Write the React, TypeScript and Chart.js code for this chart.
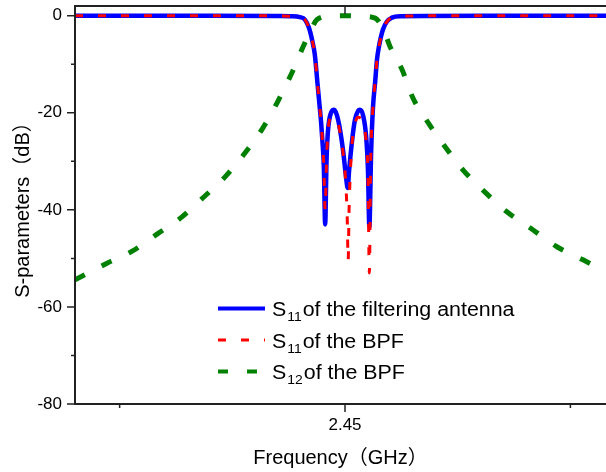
import React, { useEffect, useRef } from 'react';
import { Chart, registerables } from 'chart.js';
Chart.register(...registerables);

const FONT = "'Liberation Sans', Arial, 'Noto Sans CJK SC', sans-serif";

// S11 of the filtering antenna
const antennaFreq = [
  2.3901, 2.42, 2.435, 2.4378, 2.44, 2.4411, 2.442, 2.4427, 2.4433, 2.4439, 2.4443, 2.4447,
  2.445, 2.4453, 2.4456, 2.4459, 2.4462, 2.4469, 2.4476, 2.4482, 2.4489, 2.4496, 2.4502,
  2.4506, 2.4509, 2.4516, 2.4522, 2.4529, 2.4533, 2.454, 2.4547, 2.4551, 2.4554, 2.4558,
  2.4562, 2.4567, 2.4571, 2.4575, 2.4584, 2.4593, 2.4604, 2.4622, 2.48, 2.5079,
];
const antennaS11 = [
  0, 0, -0.05, -0.1, -0.3, -0.8, -2.5, -5, -8, -14, -18, -22,
  -26, -31, -43, -30, -24, -20, -19.4, -20.5, -23.5, -28, -33,
  -35.5, -32, -25.5, -21.5, -19.6, -19.4, -20.5, -25, -32, -43.5, -28,
  -19, -13.5, -9, -6.5, -2.9, -1.2, -0.4, -0.1, 0, 0,
];

// S11 of the BPF
const bpfFreq = [
  2.3901, 2.42, 2.435, 2.4378, 2.44, 2.4411, 2.442, 2.4427, 2.4433, 2.4439, 2.4443, 2.4447,
  2.445, 2.4453, 2.4456, 2.4459, 2.4462, 2.4469, 2.4476, 2.4482, 2.4489, 2.4496, 2.4502,
  2.4505, 2.4507, 2.4509, 2.4512, 2.4516, 2.4522, 2.4529, 2.4533, 2.454, 2.4547, 2.4551,
  2.4554, 2.4557, 2.4562, 2.4567, 2.4571, 2.4575, 2.4584, 2.4593, 2.4604, 2.4622, 2.48, 2.5079,
];
const bpfS11 = [
  0, 0, -0.05, -0.1, -0.3, -0.8, -2.5, -5, -8, -14, -18, -22,
  -26, -31, -40, -30, -24, -21, -20.8, -21.5, -24, -28.5, -35,
  -42, -50.5, -40, -32, -26, -22.3, -20.9, -21, -22, -26, -33,
  -53, -30, -19, -13.5, -9, -6.5, -2.9, -1.2, -0.4, -0.1, 0, 0,
];

// S12 of the BPF
const s12Freq = [
  2.3901, 2.3972, 2.4028, 2.4083, 2.4139, 2.4185, 2.4234, 2.4278, 2.4318, 2.4349, 2.4382,
  2.4407, 2.4425, 2.4438, 2.4467, 2.4504, 2.4538, 2.4567, 2.4585, 2.46, 2.4626, 2.4651,
  2.4684, 2.4722, 2.4762, 2.481, 2.4859, 2.4915, 2.497, 2.5028, 2.5079,
];
const s12 = [
  -54.4, -51, -48.5, -45, -41.4, -37.5, -33.2, -28.3, -23.1, -18, -11.8,
  -6.4, -2.8, -0.8, -0.1, 0, -0.1, -0.5, -2.8, -6.4, -11, -17,
  -22, -27, -31.8, -36.3, -40.4, -44, -47.6, -50.3, -52.8,
];

const xMin = 2.3901;
const xMax = 2.5079;
const yMin = -80;
const yMax = 2;
const yMajorTicks = [-80, -60, -40, -20, 0];
const yMinorTicks = [-70, -50, -30, -10];
const xMajorTicks = [2.45];
const xTickLabels = ['2.45'];
const xMinorTicks = [2.4, 2.5];

const xTitle = 'Frequency（GHz）';
const yTitle = 'S-parameters（dB）';

const legendNames = ['of the filtering antenna', 'of the BPF', 'of the BPF'];
const legendSubs = ['11', '11', '12'];
const legendColors = ['#0000ff', '#ff0000', '#008000'];

const toPoints = (xs: number[], ys: number[]) => xs.map((x, i) => ({ x, y: ys[i] }));

const STRETCH = 1.07;

function stretchedText(ctx: any, text: string, x: number, y: number) {
  ctx.save();
  ctx.translate(x, y);
  ctx.scale(STRETCH, 1);
  ctx.fillText(text, 0, 0);
  ctx.restore();
  return ctx.measureText(text).width * STRETCH;
}

const axesAndLegend = {
  id: 'axesAndLegend',
  afterDraw(chart: any) {
    const { ctx, chartArea } = chart;
    const { left, right, top, bottom } = chartArea;
    const xs = chart.scales.x;
    const ys = chart.scales.y;
    ctx.save();
    ctx.strokeStyle = '#222';
    ctx.lineWidth = 2;
    ctx.setLineDash([]);
    ctx.beginPath();
    ctx.moveTo(left, top);
    ctx.lineTo(left, bottom + 1);
    ctx.moveTo(left - 1, bottom);
    ctx.lineTo(right, bottom);
    ctx.moveTo(left - 1, top);
    ctx.lineTo(right, top);
    ctx.stroke();
    ctx.lineWidth = 1.5;
    ctx.beginPath();
    yMajorTicks.forEach((v) => {
      const p = ys.getPixelForValue(v);
      ctx.moveTo(left - 8, p);
      ctx.lineTo(left, p);
    });
    yMinorTicks.forEach((v) => {
      const p = ys.getPixelForValue(v);
      ctx.moveTo(left - 4, p);
      ctx.lineTo(left, p);
    });
    xMajorTicks.forEach((v) => {
      const p = xs.getPixelForValue(v);
      ctx.moveTo(p, bottom);
      ctx.lineTo(p, bottom + 8);
      ctx.moveTo(p, top);
      ctx.lineTo(p, top + 8);
    });
    xMinorTicks.forEach((v) => {
      const p = xs.getPixelForValue(v);
      ctx.moveTo(p, bottom);
      ctx.lineTo(p, bottom + 4);
    });
    ctx.stroke();

    // legend
    const lx = left + 143;
    const ly0 = top + 302.5;
    const dashes = [[], [8, 15], [10, 19]];
    const widths = [4, 3, 4];
    legendNames.forEach((name, i) => {
      const y = ly0 + i * 31.5;
      ctx.strokeStyle = legendColors[i];
      ctx.lineWidth = widths[i];
      ctx.setLineDash(dashes[i]);
      ctx.lineCap = 'butt';
      ctx.beginPath();
      ctx.moveTo(lx, y);
      ctx.lineTo(lx + 47, y);
      ctx.stroke();
      ctx.setLineDash([]);
      ctx.fillStyle = '#000';
      ctx.textBaseline = 'alphabetic';
      ctx.textAlign = 'left';
      let tx = lx + 54;
      const base = y + 7.5;
      ctx.font = `20px ${FONT}`;
      tx += stretchedText(ctx, 'S', tx, base) + 1;
      ctx.font = `13px ${FONT}`;
      tx += stretchedText(ctx, legendSubs[i], tx, base + 5) + 1;
      ctx.font = `20px ${FONT}`;
      stretchedText(ctx, name, tx, base);
    });
    ctx.restore();
  },
};

export default function App() {
  const ref = useRef<HTMLCanvasElement | null>(null);
  useEffect(() => {
    if (!ref.current) return;
    const chart = new Chart(ref.current, {
      type: 'line',
      data: {
        datasets: [
          {
            label: 'S11 of the BPF',
            data: toPoints(bpfFreq, bpfS11),
            borderColor: '#ff0000',
            borderWidth: 3,
            borderDash: [8, 15],
            pointRadius: 0,
            cubicInterpolationMode: 'monotone',
            order: 0,
          },
          {
            label: 'S11 of the filtering antenna',
            data: toPoints(antennaFreq, antennaS11),
            borderColor: '#0000ff',
            borderWidth: 4.5,
            pointRadius: 0,
            cubicInterpolationMode: 'monotone',
            order: 1,
          },
          {
            label: 'S12 of the BPF',
            data: toPoints(s12Freq, s12),
            borderColor: '#008000',
            borderWidth: 5,
            borderDash: [11, 19],
            pointRadius: 0,
            cubicInterpolationMode: 'monotone',
            order: 2,
          },
        ],
      },
      options: {
        animation: false,
        responsive: false,
        devicePixelRatio: 1,
        layout: { padding: { top: 6, left: 0, right: 0, bottom: 0 } },
        plugins: { legend: { display: false }, tooltip: { enabled: false } },
        scales: {
          x: {
            type: 'linear',
            position: 'bottom',
            min: xMin,
            max: xMax,
            grid: { display: false, drawTicks: false, tickLength: 0 },
            border: { display: false },
            afterBuildTicks: (scale: any) => {
              scale.ticks = xMajorTicks.map((v) => ({ value: v }));
            },
            afterFit: (scale: any) => {
              scale.height = 68;
              scale.paddingLeft = 0;
              scale.paddingRight = 0;
            },
            ticks: {
              autoSkip: false,
              maxRotation: 0,
              padding: 11,
              color: '#000',
              font: { family: FONT, size: 17 },
              callback: (_v: any, i: number) => xTickLabels[i],
            },
            title: {
              display: true,
              text: xTitle,
              color: '#000',
              font: { family: FONT, size: 20 },
              padding: { top: 0, bottom: 2 },
            },
          },
          y: {
            type: 'linear',
            position: 'left',
            min: yMin,
            max: yMax,
            grid: { display: false, drawTicks: false, tickLength: 0 },
            border: { display: false },
            afterBuildTicks: (scale: any) => {
              scale.ticks = yMajorTicks.map((v) => ({ value: v }));
            },
            afterFit: (scale: any) => {
              scale.width = 75;
              scale.paddingTop = 0;
              scale.paddingBottom = 0;
            },
            ticks: {
              autoSkip: false,
              padding: 13,
              color: '#000',
              font: { family: FONT, size: 17 },
              callback: (v: any) => String(v),
            },
            title: {
              display: true,
              text: yTitle,
              color: '#000',
              font: { family: FONT, size: 20 },
              padding: { top: 11, bottom: 0 },
            },
          },
        },
      },
      plugins: [axesAndLegend],
    } as any);
    return () => chart.destroy();
  }, []);
  return (
    <div style={{ position: 'fixed', left: 0, top: 0, width: 606, height: 472, overflow: 'hidden', background: '#fff' }}>
      <canvas ref={ref} width={606} height={472} style={{ display: 'block' }} />
    </div>
  );
}
